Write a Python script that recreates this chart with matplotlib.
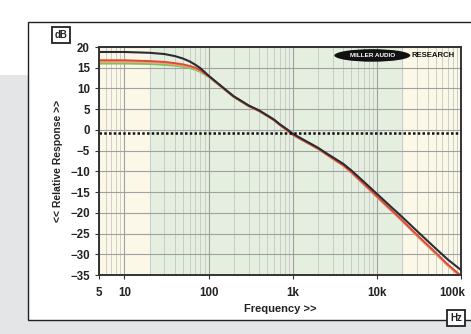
import numpy as np
import matplotlib.pyplot as plt
import matplotlib.transforms as mtransforms
from matplotlib.patches import Rectangle, Ellipse

plt.rcParams['font.family'] = ['Liberation Sans', 'DejaVu Sans']

# measured response, frequency in Hz, level in dB
freq = [5, 10, 20, 30, 40, 50, 60, 70, 80, 100, 130, 160, 200, 250, 300, 400, 500,
        600, 700, 850, 1000, 1300, 1600, 2000, 2500, 3000, 4000, 5000, 7000, 10000,
        15000, 20000, 30000, 50000, 70000, 100000]
black = [18.8, 18.8, 18.6, 18.3, 17.8, 17.2, 16.5, 15.7, 14.9, 13.1, 11.2, 9.7, 8.1,
         6.9, 5.9, 4.7, 3.5, 2.5, 1.4, 0.2, -0.9, -2.2, -3.2, -4.3, -5.6, -6.6, -8.2,
         -9.8, -12.5, -15.4, -18.7, -21.0, -24.4, -28.6, -31.3, -33.8]
red = [16.8, 16.8, 16.6, 16.4, 16.1, 15.8, 15.4, 15.0, 14.4, 13.0, 11.1, 9.6, 8.0,
       6.8, 5.8, 4.6, 3.4, 2.4, 1.3, 0.0, -1.1, -2.4, -3.4, -4.5, -5.8, -6.9, -8.5,
       -10.2, -13.0, -16.0, -19.4, -21.8, -25.3, -29.6, -32.5, -35.2]
orange = [16.4, 16.4, 16.3, 16.1, 15.8, 15.5, 15.2, 14.8, 14.2, 12.9, 11.0, 9.5, 7.9,
          6.7, 5.7, 4.5, 3.3, 2.3, 1.2, -0.1, -1.2, -2.5, -3.5, -4.6, -5.9, -7.0, -8.7,
          -10.4, -13.2, -16.2, -19.6, -22.0, -25.6, -29.9, -32.8, -35.5]
green = [16.0, 16.0, 15.9, 15.7, 15.5, 15.2, 14.9, 14.5, 14.0, 12.8, 11.0, 9.5, 7.9,
         6.7, 5.7, 4.5, 3.3, 2.3, 1.2, -0.1, -1.2, -2.5, -3.5, -4.6, -5.9, -7.0, -8.6,
         -10.3, -13.1, -16.1, -19.5, -21.9, -25.5, -29.8, -32.7, -35.4]
ref_level = -0.8

yticks = [20, 15, 10, 5, 0, -5, -10, -15, -20, -25, -30, -35]
xticks = [5, 10, 100, 1000, 10000, 100000]
xticklabels = ['5', '10', '100', '1k', '10k', '100k']

fig = plt.figure(figsize=(4.71, 3.34), dpi=100)
fig.patch.set_facecolor('white')
# grey backdrop and white card
fig.patches.append(Rectangle((0, 0), 1, 1 - 75 / 334, transform=fig.transFigure,
                             facecolor='#e4e5e7', edgecolor='none', zorder=0))
fig.patches.append(Rectangle((28 / 471, 14 / 334), 1.1, 298 / 334, transform=fig.transFigure,
                             facecolor='white', edgecolor='#222222', linewidth=1.0, zorder=1))

ax = fig.add_axes([99 / 471, 59 / 334, 362 / 471, 228 / 334])
ax.set_zorder(2)
ax.set_xscale('log')
ax.set_xlim(5, 100000)
ax.set_ylim(-35, 20)

# shaded bands
ax.set_facecolor('#fbf8e8')
ax.axvspan(20, 20000, color='#e5efdf', zorder=0)

ax.grid(True, which='major', color='#a0a0a0', linewidth=0.8)
ax.grid(True, which='minor', axis='x', color='#c6c6c6', linewidth=0.6)
ax.set_axisbelow(True)

ax.plot(freq, green, color='#7cc35a', linewidth=1.4)
ax.plot(freq, orange, color='#f0a27a', linewidth=1.4)
ax.plot(freq, red, color='#dc4b38', linewidth=1.4)
ax.plot(freq, black, color='#2b2b35', linewidth=1.5)
ax.axhline(ref_level, color='#111111', linestyle=(0, (1.0, 0.9)), linewidth=1.8)

ax.set_yticks(yticks)
ax.set_xticks(xticks)
ax.set_xticklabels(xticklabels)
ax.tick_params(axis='both', which='major', labelsize=8.3, length=3, color='#333333')
ax.tick_params(axis='x', which='minor', length=0)
ax.tick_params(axis='x', pad=6)
for lab in ax.get_xticklabels() + ax.get_yticklabels():
    lab.set_fontweight('bold')
    lab.set_color('#222222')
# keep the last frequency label inside the picture
last = ax.get_xticklabels()[-1]
last.set_transform(last.get_transform() + mtransforms.ScaledTranslation(-6 / 72, 0, fig.dpi_scale_trans))
for s in ax.spines.values():
    s.set_color('#333333')
    s.set_linewidth(1.4)

ax.set_ylabel('<< Relative Response >>', fontsize=7.5, fontweight='bold', color='#222222', labelpad=5)
ax.set_xlabel('Frequency >>', fontsize=8, fontweight='bold', color='#222222', labelpad=3)

# logo
ax.add_patch(Ellipse((0.755, 0.963), 0.21, 0.055, transform=ax.transAxes,
                     facecolor='#111111', edgecolor='none', zorder=5))
ax.text(0.755, 0.963, 'MILLER AUDIO', transform=ax.transAxes, fontsize=4.6,
        fontweight='bold', color='white', ha='center', va='center', zorder=6)
ax.text(0.862, 0.963, 'RESEARCH', transform=ax.transAxes, fontsize=5.6,
        fontweight='bold', color='#111111', ha='left', va='center', zorder=6)

# unit boxes
fig.text(61 / 471, 1 - 35 / 334, 'dB', fontsize=7, fontweight='bold', color='#222222',
         ha='center', va='center',
         bbox=dict(boxstyle='square,pad=0.3', facecolor='white', edgecolor='#222222', linewidth=1.3))
fig.text(456 / 471, 1 - 318 / 334, 'Hz', fontsize=7, fontweight='bold', color='#222222',
         ha='center', va='center',
         bbox=dict(boxstyle='square,pad=0.3', facecolor='white', edgecolor='#222222', linewidth=1.3))

fig.savefig('out.png', dpi=100)
